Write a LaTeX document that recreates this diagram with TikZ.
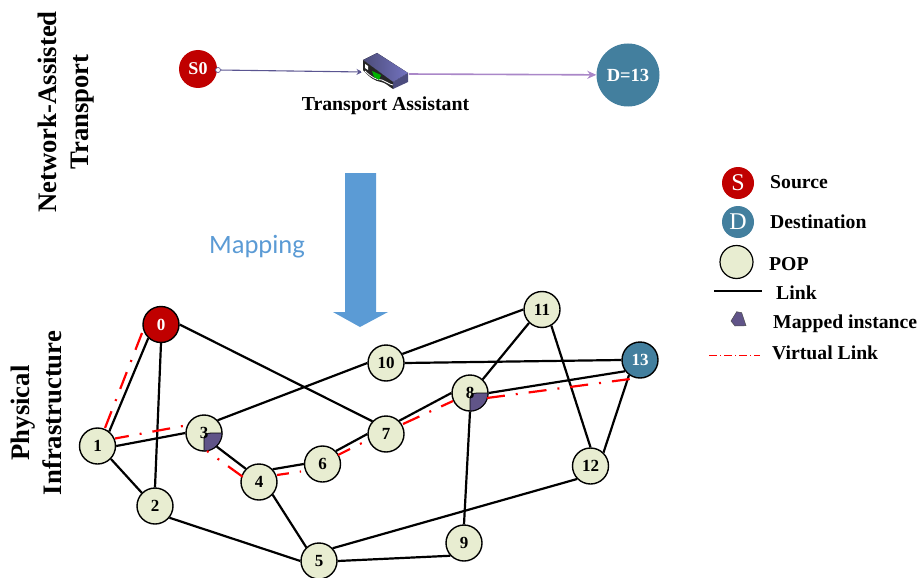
\documentclass[tikz,border=0pt]{standalone}
\usepackage{fontspec}
\setmainfont{Liberation Serif}
\newfontfamily\mapfont{Carlito}
\usetikzlibrary{arrows.meta,calc}
\definecolor{popfill}{RGB}{232,237,209}
\definecolor{srcred}{RGB}{192,0,0}
\definecolor{dstblue}{RGB}{67,127,158}
\definecolor{inst}{RGB}{96,84,136}
\definecolor{mapblue}{RGB}{91,155,213}
\definecolor{purpleline}{RGB}{170,135,200}
\definecolor{navyline}{RGB}{90,85,145}
\tikzset{
  x=1pt,y=-1pt,
  pop/.style={circle,draw=black,line width=1.4pt,fill=popfill,minimum size=36pt,inner sep=0pt,font=\bfseries\fontsize{17}{17}\selectfont},
  srcnode/.style={pop,fill=srcred,text=white},
  dstnode/.style={pop,fill=dstblue,text=white},
  instance/.style={fill=inst,draw=black,line width=.8pt},
  numlab/.style={inner sep=0pt,font=\bfseries\fontsize{17}{17}\selectfont},
  link/.style={draw=black,line width=2.2pt},
  vlink/.style={draw=red,line width=2.2pt,dash pattern=on 18pt off 11pt on 2pt off 11pt},
  lab/.style={font=\bfseries\fontsize{19.7}{20}\selectfont,anchor=west,inner sep=0pt},
  side/.style={font=\bfseries\fontsize{26.7}{32}\selectfont,rotate=90,align=center,inner sep=0pt},
}
\begin{document}
\begin{tikzpicture}
\useasboundingbox (0,0) rectangle (921,578);
% side labels
\node[side] (t1) at (66,112) {Network-Assisted\\Transport};
\node[side] (t2) at (36,413) {Physical\\Infrastructure};
% top
\node[circle,fill=srcred,text=white,minimum size=38pt,inner sep=0pt,font=\bfseries\fontsize{18}{18}\selectfont] (s0) at (198,69) {S0};
\node[circle,fill=dstblue,text=white,minimum size=63pt,inner sep=0pt,font=\bfseries\fontsize{18.5}{18.5}\selectfont] (d13) at (628,75) {D=13};
\coordinate (ra) at (362.5,72);
\coordinate (rb) at (407,74);
\node[circle,draw=navyline,fill=white,line width=.7pt,minimum size=5pt,inner sep=0pt] (port) at (218,70) {};
\draw[navyline,line width=1.1pt,-{Stealth[length=6pt,width=6pt]}] (port) -- (ra);
\draw[purpleline,line width=1.6pt,-{Stealth[length=9pt,width=8pt]}] (rb) -- (d13);
% router icon
\fill[white] (361,60) -- (377,52) -- (409,73) -- (408,84) -- (393,91) -- (380,85) -- (370,80) -- (361,72) -- cycle;
\fill[left color=black!75!blue!70!white,right color=black!45!blue!55!white] (363,60) -- (377,53) -- (408,73) -- (393,82) -- cycle;
\fill[black!72!blue!70!white] (393,82) -- (408,73) -- (408,82) -- (393,89) -- cycle;
\fill[black!85] (363,60) -- (393,82) -- (393,89) .. controls (388,86) and (386,83) .. (381,82) .. controls (375,81) and (370,78) .. (363,70) -- cycle;
\draw[white,line width=.8pt] (365,71) .. controls (371,77) and (376,80) .. (382,80) .. controls (386,81) and (388,84) .. (393,85);
\fill[white] (365,64) -- (368,66) -- (368,70) -- (365,68) -- cycle;
\fill[green!70!black] (372,71) -- (381,75) -- (379,80) -- (374,77) -- cycle;
\node[font=\bfseries\fontsize{19.8}{20}\selectfont,inner sep=0pt] (ta) at (385.5,106) {Transport Assistant};
% mapping arrow
\fill[mapblue] (345,173) -- (376,173) -- (376,312) -- (388,312) -- (360,327) -- (333,312) -- (345,312) -- cycle;
\node[font=\mapfont\fontsize{26.5}{26.5}\selectfont,text=mapblue,inner sep=0pt] (mp) at (257,247) {Mapping};
% graph nodes
\node[srcnode] (n0) at (161,324.5) {0};
\node[pop] (n1) at (97.5,446) {1};
\node[pop] (n2) at (155,506) {2};
\node[pop] (n3) at (204,433) {};
\node[pop] (n4) at (259,482) {4};
\node[pop] (n5) at (319,561) {5};
\node[pop] (n6) at (322.5,464) {6};
\node[pop] (n7) at (386,434) {7};
\node[pop] (n8) at (470,393) {};
\node[pop] (n9) at (464,543) {9};
\node[pop] (n10) at (386,363) {10};
\node[pop] (n11) at (542,309.5) {11};
\node[pop] (n12) at (590.5,466) {12};
\node[dstnode] (n13) at (640,360) {13};
% mapped instances
\foreach \n in {3,8}{
  \draw[instance,shift={(n\n.center)}] (0,18) -- (0,6) .. controls (0,2) and (3,0) .. (7,0) -- (18,0) arc[start angle=0,end angle=-90,x radius=18,y radius=-18] -- cycle;
}
\node[numlab] (l3) at (n3.center) {3};
\node[numlab] (l8) at (n8.center) {8};
% links
\foreach \a/\p/\b/\q in {0/227/1/51,0/270/2/90,0/0/7/137,3/43/10/180,10/29/11/180,10/0/13/180,8/47/11/226,8/0/13/217,8/270/9/90,7/45/8/180,6/44/7/180,4/43/6/180,3/-47/4/135,4/-43/5/133,1/0/3/180,1/-44/2/135,2/-39/5/180,5/43/12/224,5/0/9/223,11/-60/12/90,12/46/13/234}{
  \draw[link] (n\a.\p) -- (n\b.\q);
}
% virtual links
\coordinate (v0a) at (142,333); \coordinate (v1a) at (105,428);
\coordinate (v1b) at (115,438.5); \coordinate (v3a) at (183,426);
\coordinate (v3b) at (207,451); \coordinate (v4a) at (243,477);
\coordinate (v4b) at (277,475); \coordinate (v6a) at (301,471.5);
\coordinate (v6b) at (338,455); \coordinate (v7a) at (362,443);
\coordinate (v7b) at (403,424); \coordinate (v8a) at (453,401);
\coordinate (v8b) at (487,398); \coordinate (v13a) at (630,379);
\draw[vlink] (v0a) -- (v1a);
\draw[vlink,dash phase=4] (v1b) -- (v3a);
\draw[vlink,dash phase=16] (v3b) -- (v4a);
\draw[vlink,dash phase=6] (v4b) -- (v6a);
\draw[vlink,dash phase=4.5] (v6b) -- (v7a);
\draw[vlink] (v7b) -- (v8a);
\draw[vlink] (v8b) -- (v13a);
% legend
\node[circle,fill=srcred,text=white,minimum size=32pt,inner sep=0pt,font=\fontsize{24}{24}\selectfont] (ls) at (738,183) {S};
\node[circle,fill=dstblue,text=white,minimum size=32pt,inner sep=0pt,font=\fontsize{24}{24}\selectfont] (ld) at (738,222) {D};
\node[circle,draw=black,line width=1.2pt,fill=popfill,minimum size=33pt,inner sep=0pt] (lp) at (736.5,262) {};
\coordinate (la) at (714,291); \coordinate (lb) at (762,291);
\draw[black,line width=1.8pt] (la) -- (lb);
\fill[inst,draw=black!70,line width=.5pt] (731,321) -- (736.7,311.7) -- (741.7,312.7) -- (746,325.7) -- (735,326) -- cycle;
\coordinate (va) at (709,355); \coordinate (vb) at (760,355);
\draw[red,line width=.8pt,dash pattern=on 8pt off 3pt on 1pt off 3pt] (va) -- (vb);
\node[lab] at (770,182) {Source};
\node[lab] at (770,222) {Destination};
\node[lab] at (769,264) {POP};
\node[lab] at (776,293) {Link};
\node[lab] at (773,324) {Mapped instance};
\node[lab] at (772,353) {Virtual Link};
\end{tikzpicture}
\end{document}
